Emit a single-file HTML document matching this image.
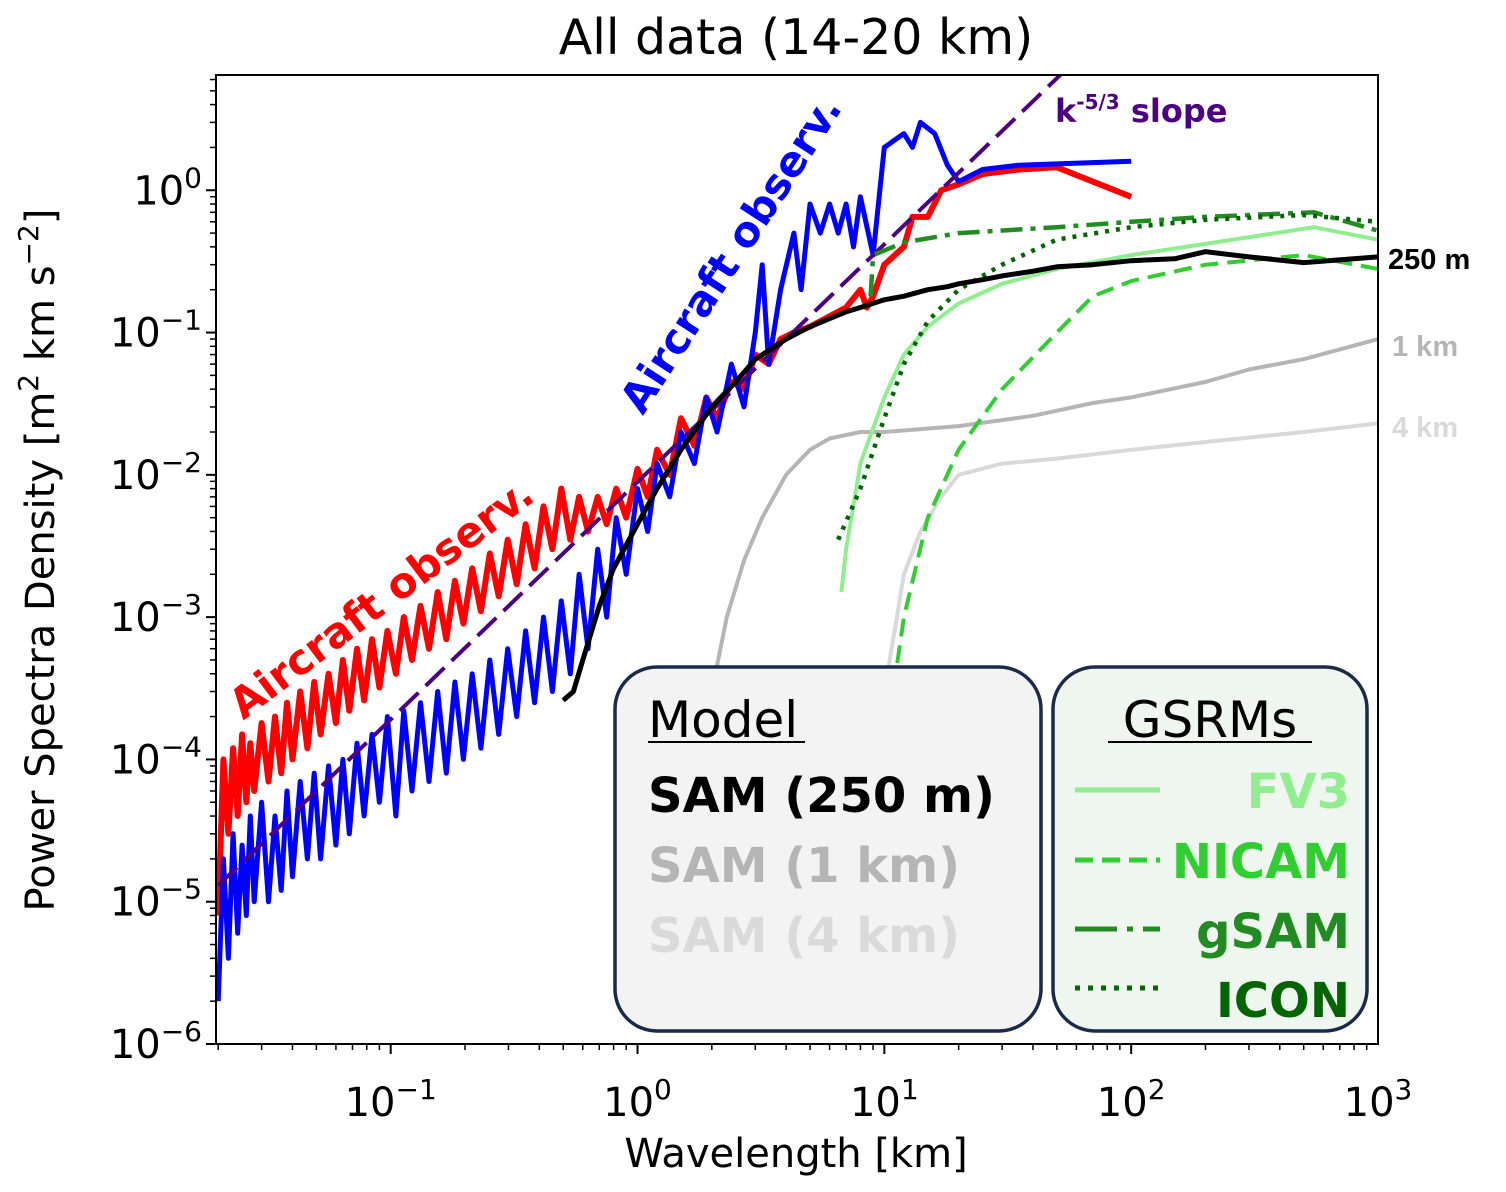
<!DOCTYPE html>
<html><head><meta charset="utf-8"><style>
body{margin:0;background:#fff;}
svg{display:block;font-family:"DejaVu Sans","Liberation Sans",sans-serif;}
</style></head><body>
<svg id="chart" width="1506" height="1192" viewBox="0 0 1506 1192" xmlns="http://www.w3.org/2000/svg">
<defs><clipPath id="plotclip"><rect x="216" y="75" width="1162" height="969"/></clipPath></defs>
<rect width="1506" height="1192" fill="#fff"/>
<text x="796" y="54" font-size="49" text-anchor="middle" fill="#000">All data (14-20 km)</text>
<g id="plot" clip-path="url(#plotclip)"></g>
<g id="axes"></g>
</svg>
<script>
const xTickExps=[-1,0,1,2,3];
const yTickExps=[-6,-5,-4,-3,-2,-1,0];
const redX=[0.020,0.021,0.022,0.023,0.024,0.025,0.026,0.027,0.028,0.030,0.032,0.034,0.036,0.038,0.040,0.043,0.046,0.049,0.052,0.056,0.060,0.064,0.068,0.073,0.078,0.084,0.090,0.097,0.105,0.113,0.122,0.132,0.143,0.155,0.168,0.182,0.197,0.214,0.232,0.252,0.274,0.298,0.324,0.352,0.383,0.416,0.452,0.491,0.534,0.58,0.63,0.69,0.75,0.82,0.9,1.0,1.1,1.2,1.35,1.5,1.7,1.9,2.1,2.4,2.7,3.0,3.4,3.8,4.3,5,6,7,8,8.5,9,10,12,13,15,17,20,25,35,50,100];
const redY=[8e-6,1e-4,3e-5,1.2e-4,4e-5,1.5e-4,5e-5,1.3e-4,6e-5,1.8e-4,7e-5,2e-4,8e-5,2.5e-4,1e-4,3e-4,1.2e-4,3.5e-4,1.5e-4,4e-4,1.8e-4,5e-4,2.2e-4,6e-4,2.6e-4,7e-4,3.2e-4,8e-4,4e-4,1e-3,5e-4,1.2e-3,6e-4,1.5e-3,7e-4,1.8e-3,9e-4,2.2e-3,1.1e-3,2.8e-3,1.4e-3,3.5e-3,1.7e-3,4.5e-3,2.2e-3,6e-3,3e-3,8e-3,3.5e-3,7e-3,4e-3,7e-3,4.5e-3,8e-3,5e-3,1.1e-2,7e-3,1.5e-2,1e-2,2.5e-2,1.6e-2,3.5e-2,2.5e-2,4.5e-2,4e-2,7e-2,6e-2,9e-2,1e-1,1.1e-1,1.3e-1,1.5e-1,2e-1,1.5e-1,1.8e-1,3e-1,4e-1,6.5e-1,6.5e-1,1.0,1.1,1.3,1.4,1.45,0.9];
const blueX=[0.020,0.021,0.022,0.023,0.024,0.025,0.026,0.027,0.028,0.030,0.032,0.034,0.036,0.038,0.040,0.043,0.046,0.049,0.052,0.056,0.060,0.064,0.068,0.073,0.078,0.084,0.090,0.097,0.105,0.113,0.122,0.132,0.143,0.155,0.168,0.182,0.197,0.214,0.232,0.252,0.274,0.298,0.324,0.352,0.383,0.416,0.452,0.491,0.534,0.58,0.63,0.69,0.75,0.82,0.9,1.0,1.1,1.2,1.35,1.5,1.7,1.9,2.1,2.4,2.7,3.0,3.2,3.4,3.8,4.3,4.6,5,5.5,6,6.5,7,7.5,8,9,10,12,13,14,16,18,20,25,35,100];
const blueY=[2e-6,2e-5,4e-6,3e-5,6e-6,2.5e-5,8e-6,4e-5,1e-5,5e-5,1e-5,4e-5,1.2e-5,6e-5,1.5e-5,7e-5,2e-5,8e-5,2e-5,9e-5,2.5e-5,1e-4,3e-5,1.3e-4,4e-5,1.5e-4,5e-5,2e-4,4e-5,2.2e-4,6e-5,2.5e-4,7e-5,3e-4,8e-5,3.5e-4,1e-4,4e-4,1.2e-4,5e-4,1.5e-4,6e-4,2e-4,8e-4,2.5e-4,1e-3,3e-4,1.3e-3,4e-4,2e-3,6e-4,3e-3,1e-3,5e-3,2e-3,8e-3,4e-3,1.2e-2,7e-3,2e-2,1.2e-2,3.5e-2,2e-2,6e-2,3e-2,1e-1,3e-1,6e-2,2e-1,5e-1,2e-1,8e-1,5e-1,8e-1,5e-1,8e-1,4e-1,9e-1,3.5e-1,2.0,2.5,2.0,3.0,2.5,1.5,1.15,1.4,1.5,1.6];
const sam250X=[0.5,0.55,0.6,0.7,0.8,1.0,1.2,1.5,2,2.5,3,4,5,7,8,10,12,15,18,20,25,30,40,50,70,100,150,200,300,500,1000];
const sam250Y=[2.6e-4,3e-4,5e-4,1.2e-3,2.2e-3,4.5e-3,8e-3,1.5e-2,3e-2,4.5e-2,6.5e-2,9e-2,1.1e-1,1.4e-1,1.5e-1,1.7e-1,1.8e-1,2e-1,2.1e-1,2.2e-1,2.35e-1,2.5e-1,2.7e-1,2.9e-1,3e-1,3.2e-1,3.3e-1,3.7e-1,3.4e-1,3.1e-1,3.4e-1];
const sam1X=[2,2.3,2.7,3.2,4,5,6,8,10,20,40,70,100,200,300,500,1000];
const sam1Y=[3e-4,1e-3,2.5e-3,5e-3,1e-2,1.5e-2,1.8e-2,2e-2,2e-2,2.2e-2,2.6e-2,3.2e-2,3.5e-2,4.5e-2,5.5e-2,6.5e-2,9e-2];
const sam4X=[10,11,12,14,17,20,30,50,100,200,500,1000];
const sam4Y=[3e-4,8e-4,2e-3,4e-3,7e-3,1e-2,1.2e-2,1.3e-2,1.5e-2,1.7e-2,2e-2,2.3e-2];
const fv3X=[6.7,7,8,10,12,15,20,30,50,100,200,550,1000];
const fv3Y=[1.5e-3,3e-3,1.2e-2,3.5e-2,7e-2,1.1e-1,1.6e-1,2.2e-1,2.8e-1,3.5e-1,4.2e-1,5.5e-1,4.5e-1];
const nicamX=[10.5,12,15,20,30,50,70,100,200,500,1000];
const nicamY=[2e-4,1e-3,5e-3,1.5e-2,4e-2,1e-1,1.8e-1,2.3e-1,3e-1,3.5e-1,2.8e-1];
const gsamX=[8.8,9,12,20,50,100,200,550,1000];
const gsamY=[1.8e-1,3.5e-1,4.3e-1,5e-1,5.5e-1,6e-1,6.5e-1,7e-1,5.2e-1];
const iconX=[6.5,8,10,12,15,20,30,50,100,200,500,1000];
const iconY=[3.5e-3,8e-3,2.5e-2,6e-2,1.2e-1,2e-1,3e-1,4.5e-1,5.5e-1,6.2e-1,6.7e-1,6e-1];
const slopeX=[0.02,100];
const slopeY=[1.3e-5,19.5];

const NS='http://www.w3.org/2000/svg';
const X0=216,X1=1378,Y0=75,Y1=1044;
const lxMin=Math.log10(0.0196),lxMax=3;
const lyMin=-6,lyMax=0.81;
function sx(v){return X0+(Math.log10(v)-lxMin)/(lxMax-lxMin)*(X1-X0);}
function sy(v){return Y1-(Math.log10(v)-lyMin)/(lyMax-lyMin)*(Y1-Y0);}
const plot=document.getElementById('plot');
const axes=document.getElementById('axes');
function mk(tag,attrs,parent){const e=document.createElementNS(NS,tag);for(const k in attrs)e.setAttribute(k,attrs[k]);parent.appendChild(e);return e;}
function series(xs,ys,color,w,dash,name){
  const d=xs.map((x,i)=>(i?'L':'M')+sx(x).toFixed(1)+','+sy(ys[i]).toFixed(1)).join('');
  const p=mk('path',{d:d,fill:'none',stroke:color,'stroke-width':w,'stroke-linejoin':'round'},plot);
  if(dash)p.setAttribute('stroke-dasharray',dash);
  
  
}
series(sam4X,sam4Y,'#d9d9d9',4,null,'sam-4km-line');
series(sam1X,sam1Y,'#b5b5b5',4,null,'sam-1km-line');
series(redX,redY,'#ff0000',6,null,'aircraft-red-line');
series(blueX,blueY,'#0000ff',5,null,'aircraft-blue-line');
series(slopeX,slopeY,'#4b0082',4,'26,10','k53-slope-line');
series(fv3X,fv3Y,'#90ee90',4,null,'fv3-line');
series(nicamX,nicamY,'#32cd32',4,'18,9','nicam-line');
series(gsamX,gsamY,'#228b22',4.5,'22,8,5,8','gsam-line');
series(iconX,iconY,'#006400',4.5,'4,7','icon-line');
series(sam250X,sam250Y,'#000000',5,null,'sam-250m-line');

const fr=mk('rect',{x:X0,y:Y0,width:X1-X0,height:Y1-Y0,fill:'none',stroke:'#000','stroke-width':2},axes);


for(let e=-2;e<=2;e++){for(let m=1;m<10;m++){const v=m*Math.pow(10,e);if(v<0.0196||v>1000)continue;const x=sx(v);
  const t=mk('line',{x1:x,x2:x,y1:Y1,y2:Y1+(m===1?10:6),stroke:'#000','stroke-width':m===1?2:1.5},axes);
  
  }}
xTickExps.forEach(e=>{const x=sx(Math.pow(10,e));
  const t=mk('text',{x:x,y:1116,'font-size':40,'text-anchor':'middle'},axes);
  
  
  t.innerHTML='10<tspan font-size="28" dy="-17">'+(e<0?'\u2212'+(-e):e)+'</tspan>';});
for(let e=-6;e<=0;e++){for(let m=1;m<10;m++){const v=m*Math.pow(10,e);if(Math.log10(v)>lyMax)continue;const y=sy(v);
  const t=mk('line',{x1:X0,x2:X0-(m===1?10:6),y1:y,y2:y,stroke:'#000','stroke-width':m===1?2:1.5},axes);
  
  }}
yTickExps.forEach(e=>{const y=sy(Math.pow(10,e));
  const t=mk('text',{x:202,y:y+14,'font-size':40,'text-anchor':'end'},axes);
  
  
  t.innerHTML='10<tspan font-size="28" dy="-17">'+(e<0?'\u2212'+(-e):e)+'</tspan>';});
</script>
<svg style="position:absolute;left:0;top:0" width="1506" height="1192">
<text x="796" y="1167" font-size="40" text-anchor="middle">Wavelength [km]</text>
<text transform="translate(54,560) rotate(-90)" font-size="40" text-anchor="middle">Power Spectra Density [m<tspan font-size="28" dy="-16">2</tspan><tspan dy="16"> km s</tspan><tspan font-size="28" dy="-16">−2</tspan><tspan dy="16">]</tspan></text>
<text transform="translate(743,262) rotate(-57)" font-size="42" font-weight="bold" fill="#0000ff" text-anchor="middle">Aircraft observ.</text>
<text transform="translate(390,610) rotate(-37)" font-size="42" font-weight="bold" fill="#ff0000" text-anchor="middle">Aircraft observ.</text>
<text x="1055" y="122" font-size="32" font-weight="bold" fill="#4b0082">k<tspan font-size="20" dy="-13">-5/3</tspan><tspan dy="13"> slope</tspan></text>
<text x="1388" y="269" font-size="29" font-weight="bold" fill="#000" font-family="Liberation Sans, sans-serif">250 m</text>
<text x="1392" y="356" font-size="29" font-weight="bold" fill="#b5b5b5" font-family="Liberation Sans, sans-serif">1 km</text>
<text x="1392" y="437" font-size="29" font-weight="bold" fill="#dadada" font-family="Liberation Sans, sans-serif">4 km</text>
<g>
<rect x="615" y="667" width="426" height="364" rx="42" fill="#f3f3f3" stroke="#1b2a48" stroke-width="3.5"/>
<text x="648" y="737" font-size="50">Model</text>
<line x1="648" y1="742" x2="805" y2="742" stroke="#000" stroke-width="2"/>
<text x="648" y="812" font-size="48" font-weight="bold" fill="#000">SAM (250 m)</text>
<text x="648" y="882" font-size="48" font-weight="bold" fill="#b5b5b5">SAM (1 km)</text>
<text x="648" y="952" font-size="48" font-weight="bold" fill="#dadada">SAM (4 km)</text>
</g>
<g>
<rect x="1053" y="667" width="314" height="364" rx="42" fill="#eff6ef" stroke="#1b2a48" stroke-width="3.5"/>
<text x="1210" y="737" font-size="50" text-anchor="middle">GSRMs</text>
<line x1="1108" y1="742" x2="1312" y2="742" stroke="#000" stroke-width="2"/>
<line x1="1075" y1="790" x2="1160" y2="790" stroke="#90ee90" stroke-width="5"/>
<text x="1350" y="808" font-size="48" font-weight="bold" fill="#90ee90" text-anchor="end">FV3</text>
<line x1="1075" y1="860" x2="1160" y2="860" stroke="#32cd32" stroke-width="5" stroke-dasharray="18,9"/>
<text x="1350" y="878" font-size="48" font-weight="bold" fill="#32cd32" text-anchor="end">NICAM</text>
<line x1="1075" y1="929" x2="1160" y2="929" stroke="#228b22" stroke-width="5" stroke-dasharray="42,10,6,10"/>
<text x="1350" y="948" font-size="48" font-weight="bold" fill="#228b22" text-anchor="end">gSAM</text>
<line x1="1075" y1="988" x2="1160" y2="988" stroke="#006400" stroke-width="5" stroke-dasharray="5,8"/>
<text x="1350" y="1017" font-size="48" font-weight="bold" fill="#006400" text-anchor="end">ICON</text>
</g>
</svg>
</body></html>
